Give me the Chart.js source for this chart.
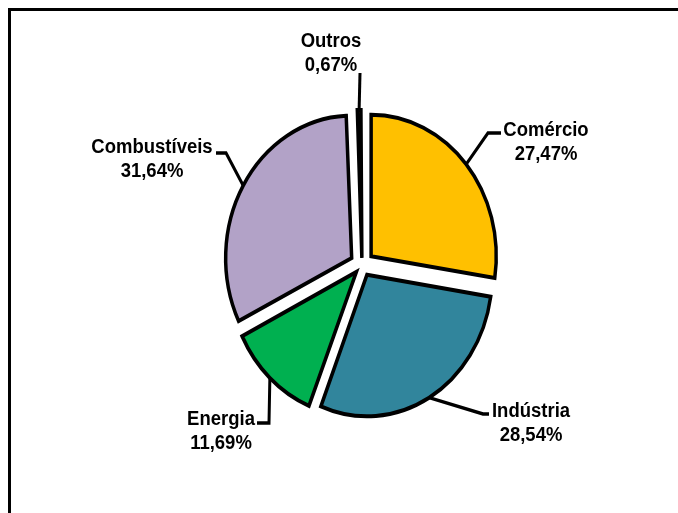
<!DOCTYPE html>
<html>
<head>
<meta charset="utf-8">
<script src="https://cdn.jsdelivr.net/npm/chart.js@4.4.1/dist/chart.umd.min.js"></script>
<style>
  body { margin: 0; background: #fff; }
  canvas { display: block; }
</style>
</head>
<body>
<canvas id="myChart" width="678" height="513"></canvas>
<script>
// slices, clockwise from the top
const sectors = ['Comércio', 'Indústria', 'Energia', 'Combustíveis', 'Outros'];
const shares = [27.47, 28.54, 11.69, 31.64, 0.67];
const colors = ['#FFC000', '#31859C', '#00B050', '#B2A2C7', '#E46C0A'];

// the picture is a bit taller than wide, so everything gets stretched in y
const stretch = 1.13;

// label text (baseline of 1st line) and leader bends, in screen pixels
const labelSpots = [
    {x: 546, y: 136, bends: [[488, 133], [501, 133]]},
    {x: 531, y: 417, bends: [[483, 414], [489, 414]]},
    {x: 221, y: 425, bends: [[269, 423], [257, 423]]},
    {x: 152, y: 153, bends: [[226, 153], [216, 153]]},
    {x: 331, y: 47,  bends: [[360, 73]]}
];

function pct(v){
    return v.toFixed(2).replace('.', ',') + '%';
}

const stretchPlugin = {
    id: 'stretch',
    beforeDraw(chart){
        const ctx = chart.ctx;
        // frame around the chart, cut off at right and bottom
        ctx.save();
        ctx.fillStyle = '#000';
        ctx.fillRect(8, 8, 700, 3);
        ctx.fillRect(8, 8, 3, 540);
        ctx.restore();
    },
    beforeDatasetsDraw(chart){
        chart.ctx.save();
        chart.ctx.scale(1, stretch);
    },
    afterDatasetsDraw(chart){
        const ctx = chart.ctx;
        const arcs = chart.getDatasetMeta(0).data;
        ctx.strokeStyle = '#000';
        ctx.lineWidth = 3;
        ctx.lineJoin = 'miter';
        ctx.fillStyle = '#000';
        ctx.font = 'bold 18.5px "Liberation Sans", Arial, sans-serif';
        ctx.textAlign = 'center';
        ctx.textBaseline = 'alphabetic';
        for (let i = 0; i < arcs.length; i++){
            const a = arcs[i];
            const circ = a.endAngle - a.startAngle;
            const mid = (a.startAngle + a.endAngle) / 2;
            // same shift as chart.js uses for offset slices
            const off = a.options.offset / 4;
            const shift = off + off * (1 - Math.sin(Math.min(Math.PI, circ)));
            const r = shift + a.outerRadius;
            const ex = a.x + Math.cos(mid) * r;
            const ey = a.y + Math.sin(mid) * r;
            const spot = labelSpots[i];
            ctx.beginPath();
            ctx.moveTo(ex, ey);
            for (const b of spot.bends){
                ctx.lineTo(b[0], b[1] / stretch);
            }
            ctx.stroke();
            ctx.fillText(sectors[i], spot.x, spot.y / stretch);
            ctx.fillText(pct(shares[i]), spot.x, (spot.y + 24) / stretch);
        }
        ctx.restore();
    }
};

new Chart(document.getElementById('myChart'), {
    type: 'pie',
    data: {
        labels: sectors,
        datasets: [{
            data: shares,
            backgroundColor: colors,
            borderColor: '#000',
            borderWidth: 3.5,
            borderJoinStyle: 'miter',
            offset: [48, 40, 33, 48, 25]
        }]
    },
    options: {
        responsive: false,
        animation: false,
        radius: 125,
        layout: {
            padding: {left: 46, right: 0, top: 0, bottom: 513 - 2 * 265 / stretch}
        },
        plugins: {
            legend: {display: false},
            tooltip: {enabled: false}
        }
    },
    plugins: [stretchPlugin]
});
</script>
</body>
</html>
